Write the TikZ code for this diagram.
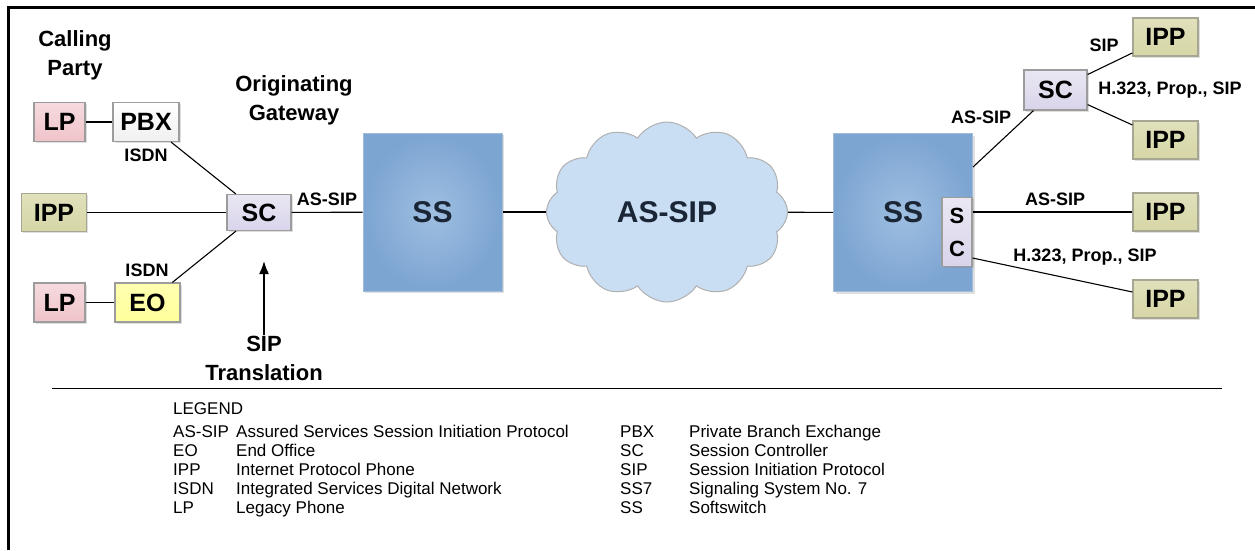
\documentclass[tikz,border=0pt]{standalone}
\usepackage{fontspec}
\setmainfont{Liberation Sans}
\usetikzlibrary{arrows.meta,shapes.symbols,shadows}
\definecolor{Blush}{HTML}{EFC3C9}
\definecolor{Olive}{HTML}{D6D6A6}
\definecolor{Lilac}{HTML}{D9D4EA}
\definecolor{Lemon}{HTML}{FFFF9C}
\definecolor{Steel}{HTML}{8DB3DC}
\definecolor{SteelDk}{HTML}{648FC2}
\definecolor{Sky}{HTML}{C9DDF3}
\definecolor{Edge}{HTML}{9C9C9C}
\definecolor{Ink}{HTML}{1A2536}

\begin{document}
\begin{tikzpicture}[x=1pt,y=-1pt,
  dev/.style={draw=Edge,line width=1.2pt,minimum width=64pt,minimum height=39pt,inner sep=0pt,
    font=\fontsize{25}{27}\selectfont\bfseries,drop shadow={shadow xshift=1.5pt,shadow yshift=-1.5pt,opacity=.25}},
  lp/.style={dev,minimum width=51pt,top color=Blush!60,bottom color=Blush},
  pbx/.style={dev,minimum width=66pt,top color=white,bottom color=gray!12},
  ipp/.style={dev,minimum width=65pt,minimum height=38pt,draw=Olive!60!black!70,top color=Olive!75,bottom color=Olive},
  eo/.style={dev,minimum width=65pt,top color=Lemon!80,bottom color=Lemon},
  sc/.style={dev,minimum height=36pt,top color=Lilac!55,bottom color=Lilac},
  ss/.style={draw=SteelDk!60,line width=1pt,minimum width=139pt,minimum height=158pt,inner color=Steel!85!white,outer color=Steel!60!SteelDk,
    font=\fontsize{30}{32}\selectfont\bfseries,text=Ink,drop shadow={shadow xshift=2pt,shadow yshift=-2pt,opacity=.25}},
  net/.style={cloud,cloud puffs=12,cloud puff arc=115,aspect=1.34,draw=Edge!80,line width=1pt,fill=Sky,
    minimum width=241pt,minimum height=180pt,inner sep=0pt,font=\fontsize{30}{32}\selectfont\bfseries,text=Ink},
  lbl/.style={font=\fontsize{18}{20}\selectfont\bfseries,inner sep=1pt},
  head/.style={font=\fontsize{22}{29}\selectfont\bfseries,align=center,inner sep=1pt},
  link/.style={line width=1.1pt},
  arrow/.style={-{Latex[length=13pt,width=10pt]},line width=1.2pt}]
\useasboundingbox (0,0) rectangle (1255,550);
\draw[line width=3pt] (8,550) -- (8,7) -- (1255,7);
\node[head](caller) at (75,55) {Calling\\Party};
\node[head](gateway) at (294,100) {Originating\\Gateway};
\node[head](trans) at (264,358) {SIP\\Translation};
\node[lp](lpA) at (59.5,122) {LP};
\node[pbx](pbx) at (146,122) {PBX};
\node[ipp](ippL) at (54,212.5) {IPP};
\node[sc](scL) at (259,212.5) {SC};
\node[lp](lpB) at (59.5,302.5) {LP};
\node[eo](eo) at (147.5,302.5) {EO};
\node[lbl](isdnA) at (146,155) {ISDN};
\node[lbl](isdnB) at (147,270) {ISDN};
\node[lbl](asipL) at (327,199) {AS-SIP};
\node[ss](ssL) at (432.5,212) {SS};
\node[net](core) at (667,212) {AS-SIP};
\node[ss](ssR) at (903,212.5) {SS};
\node[sc,minimum width=30pt,minimum height=69pt,align=center,font=\fontsize{22}{33}\selectfont\bfseries](scS) at (957,232) {S\\C};
\node[sc,minimum width=63pt,minimum height=40pt](scR) at (1055.5,90) {SC};
\foreach \n/\y in {1/37,2/140,3/212,4/299}
  \node[ipp](ipp\n) at (1165.5,\y) {IPP};
\node[lbl](asipUp) at (981,117) {AS-SIP};
\node[lbl](sipTop) at (1104,45) {SIP};
\node[lbl](mixTop) at (1170,90) {H.323, Prop., SIP};
\node[lbl](asipMid) at (1055,199) {AS-SIP};
\node[lbl](mixLow) at (1085,257) {H.323, Prop., SIP};
\draw[link](lpA)--(pbx);\draw[link](pbx)--(scL);\draw[link](ippL)--(scL);
\draw[link](lpB)--(eo);\draw[link](eo)--(scL);\draw[link](scL)--(ssL);
\draw[link](ssL)--(core);\draw[link](core)--(ssR);
\draw[link]([yshift=-34pt]ssR.north east)--(scR);\draw[link](scR)--(ipp1);\draw[link](scR)--(ipp2);
\draw[link](scS.east |- ipp3)--(ipp3);\draw[link]([yshift=-26pt]scS.east)--(ipp4);
\coordinate(gap) at ([yshift=-30pt]scL.south);
\draw[arrow](trans)--(trans |- gap);
\draw[line width=.8pt] (52,388) -- (1222,388);
\node[anchor=base west,inner sep=0pt,font=\fontsize{17}{19}\selectfont](legend) at (173,414) {%
  \begin{tabular}[t]{@{}p{63pt}@{}p{384pt}@{}p{69pt}@{}l@{}}
  \multicolumn{4}{@{}l@{}}{LEGEND}\\[4pt]
  AS-SIP & Assured Services Session Initiation Protocol & PBX & Private Branch Exchange\\
  EO & End Office & SC & Session Controller\\
  IPP & Internet Protocol Phone & SIP & Session Initiation Protocol\\
  ISDN & Integrated Services Digital Network & SS7 & Signaling System No. 7\\
  LP & Legacy Phone & SS & Softswitch
  \end{tabular}};
\end{tikzpicture}
\end{document}
